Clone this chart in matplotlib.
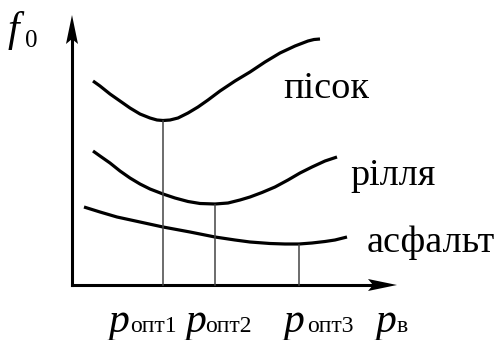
import matplotlib

matplotlib.use("Agg")

import matplotlib.pyplot as plt
from matplotlib.patches import Polygon

# Curves in figure-pixel units (x right, y down), 500 x 340 canvas.
pisok_x = [93, 100, 110, 120, 130, 140, 150, 157, 163, 170, 178, 188, 198, 208,
           220, 235, 250, 265, 280, 295, 308, 314, 320]
pisok_y = [81, 86, 94, 101, 108, 114, 118, 120, 120.5, 120, 118, 113, 107, 100,
           91, 81, 72, 62, 53, 46, 41, 39.5, 39]

rillia_x = [93, 100, 110, 120, 130, 140, 150, 163, 175, 188, 200, 215, 228, 240,
            250, 262, 275, 288, 300, 312, 325, 337]
rillia_y = [151, 156, 163, 171, 178, 184, 189, 194, 198, 201.5, 203.5, 204, 203, 200,
            197, 192.5, 187, 180, 173, 167, 161, 157]

asfalt_x = [84, 100, 117, 140, 163, 190, 215, 235, 250, 270, 285, 299, 312, 325, 335, 347]
asfalt_y = [207, 212, 217, 222, 227, 232, 237, 240, 242, 243.5, 244, 244, 243, 241.5, 240, 237]

# optimum pressures: x position and the curve minimum it drops from
opt_x = [163, 215, 299]
opt_y = [121, 205, 245]
opt_names = ["опт1", "опт2", "опт3"]

curve_names = ["пісок", "рілля", "асфальт"]

SERIF = ["Liberation Serif", "DejaVu Serif"]
plt.rcParams["font.family"] = SERIF

X0, Y0 = 72, 285          # axes origin
X_END, Y_END = 397, 15    # arrow tips

fig = plt.figure(figsize=(5, 3.4), dpi=100)
ax = fig.add_axes([0, 0, 1, 1])
ax.set_xlim(0, 500)
ax.set_ylim(340, 0)
ax.axis("off")

# axes lines with notched arrowheads
ax.plot([X0, X0], [Y0, Y_END + 20], color="black", lw=2.2, solid_capstyle="projecting")
ax.plot([X0, X_END - 20], [Y0, Y0], color="black", lw=2.2, solid_capstyle="projecting")
ax.add_patch(Polygon([(X0, Y_END), (X0 + 6, Y_END + 29), (X0, Y_END + 24), (X0 - 6, Y_END + 29)],
                     closed=True, color="black", lw=0))
ax.add_patch(Polygon([(X_END, Y0), (X_END - 29, Y0 + 6), (X_END - 24, Y0), (X_END - 29, Y0 - 6)],
                     closed=True, color="black", lw=0))

for xs, ys in [(pisok_x, pisok_y), (rillia_x, rillia_y), (asfalt_x, asfalt_y)]:
    ax.plot(xs, ys, color="black", lw=2.3, solid_capstyle="butt", solid_joinstyle="round")

for x, y in zip(opt_x, opt_y):
    ax.plot([x, x], [y, Y0], color="#444444", lw=1.1)

# curve labels
label_pos = [(283, 98), (350, 185), (367, 252)]
for name, (x, y) in zip(curve_names, label_pos):
    ax.text(x, y, name, family=SERIF, fontsize=27.5, va="baseline", ha="left")

# axis labels
ax.text(8, 41, "f", family=SERIF, style="italic", fontsize=30, va="baseline")
ax.text(25, 47, "0", family=SERIF, fontsize=18, va="baseline")

p_pos = [108, 185, 283]
sub_pos = [130, 205, 307]
for px, sx, name in zip(p_pos, sub_pos, opt_names):
    ax.text(px, 332, "p", family=SERIF, style="italic", fontsize=30, va="baseline")
    ax.text(sx, 332, name, family=SERIF, fontsize=17, va="baseline")
ax.text(375, 332, "p", family=SERIF, style="italic", fontsize=30, va="baseline")
ax.text(397, 332, "в", family=SERIF, fontsize=17, va="baseline")

fig.savefig("out.png", dpi=100, facecolor="white")
